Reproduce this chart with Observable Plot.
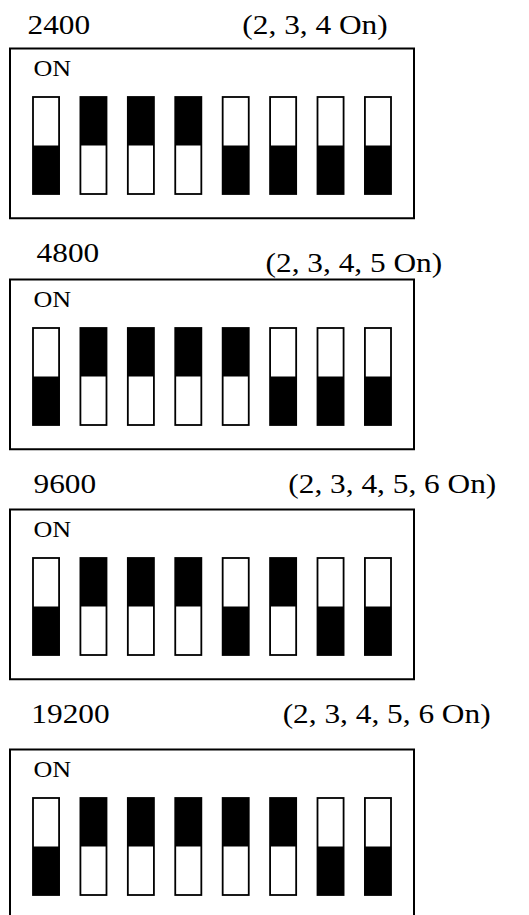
<!DOCTYPE html>
<html><head><meta charset="utf-8">
<script src="https://cdn.jsdelivr.net/npm/d3@7"></script>
<script src="https://cdn.jsdelivr.net/npm/@observablehq/plot@0.6"></script>
<style>
html,body{margin:0;padding:0;background:#fff;overflow:hidden}
#chart svg{display:block}
</style>
</head><body><div id="chart"></div>
<script>
// ---- data ----
const bauds = ["2400", "4800", "9600", "19200"];
const settingLabels = ["(2, 3, 4 On)", "(2, 3, 4, 5 On)", "(2, 3, 4, 5, 6 On)", "(2, 3, 4, 5, 6 On)"];
const switchNumbers = [1, 2, 3, 4, 5, 6, 7, 8];
const states2400  = [0, 1, 1, 1, 0, 0, 0, 0];
const states4800  = [0, 1, 1, 1, 1, 0, 0, 0];
const states9600  = [0, 1, 1, 1, 0, 1, 0, 0];
const states19200 = [0, 1, 1, 1, 1, 1, 0, 0];
const switchStates = [states2400, states4800, states9600, states19200];
const onLabel = "ON";

// ---- layout ----
const panelHeights = [230, 230, 230, 225];
const switchTops = [97, 98, 98, 108];
const switchPx = 97;
const titleX = [0.6, 0.79, 0.725, 0.68];
const titleY = [1.65, 1.69, 1.68, 1.78];
const settingX = [5.13, 5.62, 6.1, 5.98];
const settingY = [1.65, 1.58, 1.68, 1.78];
const stretch = 1.16;
const serif = "Liberation Serif, Times New Roman, serif";

const container = document.getElementById("chart");
bauds.forEach((baud, p) => {
  const sw = switchNumbers.map((n, i) => ({n, on: switchStates[p][i]}));
  const top = switchTops[p];
  const plot = Plot.plot({
    width: 529,
    height: panelHeights[p],
    margin: 0,
    x: {domain: [0.24, 8.76], range: [10, 414], axis: null},
    y: {domain: [0, 1], range: [top + switchPx, top], axis: null},
    marks: [
      Plot.rect([0], {x1: 0.24, x2: 8.76, y1: -0.25, y2: 1.5, fill: "none", stroke: "black", strokeWidth: 2}),
      Plot.rect(sw, {x1: d => d.n - 0.275, x2: d => d.n + 0.275, y1: 0, y2: 1, fill: "white", stroke: "black", strokeWidth: 1.8}),
      Plot.rect(sw, {x1: d => d.n - 0.275, x2: d => d.n + 0.275, y1: d => d.on ? 0.5 : 0, y2: d => d.on ? 1 : 0.5, fill: "black"}),
      Plot.text([onLabel], {x: 0.725, y: 1.22, text: d => d, textAnchor: "start", lineAnchor: "bottom", fontSize: 22.5, fontFamily: serif, fill: "black"}),
      Plot.text([baud], {x: titleX[p], y: titleY[p], text: d => d, textAnchor: "start", lineAnchor: "bottom", fontSize: 27, fontFamily: serif, fill: "black"}),
      Plot.text([settingLabels[p]], {x: settingX[p], y: settingY[p], text: d => d, textAnchor: "start", lineAnchor: "bottom", fontSize: 27, fontFamily: serif, fill: "black"})
    ]
  });
  container.appendChild(plot);
});
// horizontal stretch of text to match the reference's wide glyphs
container.querySelectorAll("text").forEach(t => {
  const len = t.getComputedTextLength();
  if (len > 0) {
    t.setAttribute("textLength", (len * stretch).toFixed(1));
    t.setAttribute("lengthAdjust", "spacingAndGlyphs");
  }
});
</script>
</body></html>
